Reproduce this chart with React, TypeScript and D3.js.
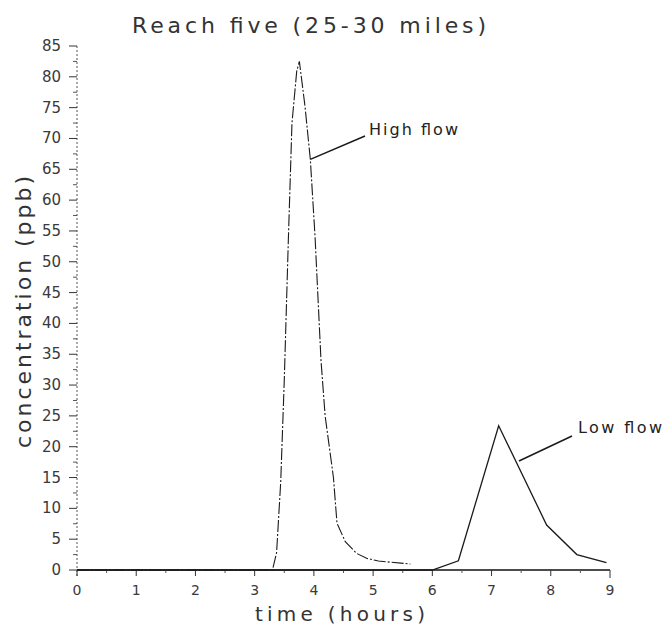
import React from "react";
import * as d3 from "d3";

const highTime = [0, 3.3, 3.37, 3.44, 3.5, 3.57, 3.63, 3.71, 3.755, 3.85, 3.94, 4.02, 4.12, 4.19, 4.33, 4.39, 4.53, 4.72, 4.89, 5.09, 5.63];
const highConc = [0, 0, 2.8, 14.3, 30.8, 54, 72.5, 80.9, 82.5, 75.2, 66.6, 54, 34, 25, 15, 7.6, 4.6, 2.7, 1.9, 1.45, 0.97];
const lowTime = [0, 6.0, 6.44, 7.12, 7.93, 8.44, 8.94];
const lowConc = [0, 0, 1.5, 23.4, 7.3, 2.5, 1.2];
const xTicks = [0, 1, 2, 3, 4, 5, 6, 7, 8, 9];
const yTicks = [0, 5, 10, 15, 20, 25, 30, 35, 40, 45, 50, 55, 60, 65, 70, 75, 80, 85];

const W = 665;
const H = 634;
const FONT = "'DejaVu Sans', sans-serif";

export default function App() {
  const x = d3.scaleLinear().domain([0, 9]).range([77, 610]);
  const y = d3.scaleLinear().domain([0, 85]).range([570, 46]);
  const line = d3
    .line<[number, number]>()
    .x((d) => x(d[0]))
    .y((d) => y(d[1]));
  const high = highTime.map((t, i) => [t, highConc[i]] as [number, number]);
  const low = lowTime.map((t, i) => [t, lowConc[i]] as [number, number]);
  const xMinor = d3.range(0.5, 9, 1);
  const yMinor = d3.range(2.5, 85, 5);
  const col = "#1a1a1a";

  return (
    <svg
      width={W}
      height={H}
      style={{ position: "absolute", left: 0, top: 0, background: "#fff" }}
    >
      <rect x={0} y={0} width={W} height={H} fill="#fff" />
      {/* title */}
      <text
        x={309}
        y={33}
        fontFamily={FONT}
        fontSize={22}
        fill="#333"
        textAnchor="middle"
        textLength={354}
        lengthAdjust="spacing"
      >
        Reach five (25-30 miles)
      </text>

      {/* y axis */}
      <line x1={x(0)} x2={x(0)} y1={y(85)} y2={y(0) + 6} stroke="#555" strokeWidth={1} strokeDasharray="2,2" />
      {yTicks.map((v) => (
        <g key={"yt" + v}>
          <line x1={x(0) - 8} x2={x(0)} y1={y(v)} y2={y(v)} stroke="#333" strokeWidth={1} />
          <text x={61} y={y(v) + 5} fontFamily={FONT} fontSize={15} fill="#3a3a3a" textAnchor="end">
            {v}
          </text>
        </g>
      ))}
      {yMinor.map((v) => (
        <line key={"ym" + v} x1={x(0) - 4} x2={x(0)} y1={y(v)} y2={y(v)} stroke="#555" strokeWidth={1} />
      ))}

      {/* x axis */}
      <line x1={x(0)} x2={x(9)} y1={y(0)} y2={y(0)} stroke="#111" strokeWidth={1.5} />
      {xTicks.map((t) => (
        <g key={"xt" + t}>
          <line x1={x(t)} x2={x(t)} y1={y(0)} y2={y(0) + (t === 9 ? 8 : 6)} stroke="#333" strokeWidth={1} />
          <text x={x(t)} y={595} fontFamily={FONT} fontSize={14} fill="#3a3a3a" textAnchor="middle">
            {t}
          </text>
        </g>
      ))}
      {xMinor.map((t) => (
        <line key={"xm" + t} x1={x(t)} x2={x(t)} y1={y(0)} y2={y(0) + 3} stroke="#555" strokeWidth={1} />
      ))}

      {/* axis labels */}
      <text
        x={340}
        y={621}
        fontFamily={FONT}
        fontSize={20}
        fill="#333"
        textAnchor="middle"
        textLength={170}
        lengthAdjust="spacing"
      >
        time (hours)
      </text>
      <text
        transform="translate(31,312) rotate(-90)"
        fontFamily={FONT}
        fontSize={22}
        fill="#333"
        textAnchor="middle"
        textLength={272}
        lengthAdjust="spacing"
      >
        concentration (ppb)
      </text>

      {/* data */}
      <path d={line(high) || ""} fill="none" stroke={col} strokeWidth={1.1} strokeDasharray="12,2,2,2" />
      <path d={line(low) || ""} fill="none" stroke={col} strokeWidth={1.3} />

      {/* annotations */}
      <line x1={x(3.94)} y1={y(66.6)} x2={365} y2={136} stroke={col} strokeWidth={1.5} />
      <text x={369} y={135} fontFamily={FONT} fontSize={16} fill="#222" textLength={89} lengthAdjust="spacing">
        High flow
      </text>
      <line x1={519} y1={461} x2={572} y2={436} stroke={col} strokeWidth={1.5} />
      <text x={578} y={433} fontFamily={FONT} fontSize={16} fill="#222" textLength={84} lengthAdjust="spacing">
        Low flow
      </text>
    </svg>
  );
}
